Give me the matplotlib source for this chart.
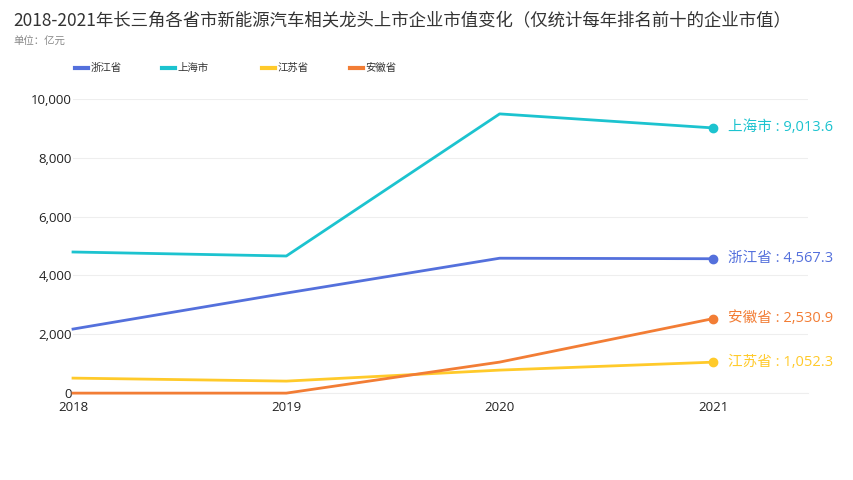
import matplotlib
matplotlib.use('Agg')
import matplotlib.pyplot as plt

plt.rcParams['font.family'] = ['Noto Sans CJK SC', 'DejaVu Sans']
num_font = ['Open Sans', 'Noto Sans CJK SC']

years = [2018, 2019, 2020, 2021]
provinces = ['浙江省', '上海市', '江苏省', '安徽省']
values = {
    '浙江省': [2177, 3400, 4585, 4567.3],
    '上海市': [4796, 4660, 9490, 9013.6],
    '江苏省': [510, 408, 782, 1052.3],
    '安徽省': [0, 0, 1054, 2530.9],
}
colors = ['#5470DC', '#1CC3CF', '#FFCA2A', '#F27D35']

fig = plt.figure(figsize=(8.54, 4.8), dpi=100)
ax = fig.add_axes([0.0855, 0.181, 0.8605, 0.613])

for name, c in zip(provinces, colors):
    v = values[name]
    ax.plot(years, v, color=c, lw=2, clip_on=False, zorder=3)
    ax.plot(years[-1], v[-1], 'o', color=c, ms=6, clip_on=False, zorder=4)
    ax.text(years[-1] + 0.07, v[-1], f'{name} : {v[-1]:,.1f}', color=c,
            fontsize=10.5, va='center', ha='left', family=num_font)

ax.set_xlim(2018, 2021.445)
ax.set_ylim(0, 10000)
ax.set_xticks(years)
ax.set_xticklabels([str(y) for y in years], family=num_font)
ax.set_yticks(range(0, 10001, 2000))
ax.set_yticklabels([f'{t:,}' for t in range(0, 10001, 2000)], family=num_font)
ax.tick_params(length=0, labelsize=9.5, colors='#222222', pad=1)
ax.tick_params(axis='x', pad=6)
ax.grid(axis='y', color='#EEEEEE', lw=0.8)
ax.set_axisbelow(True)
for s in ['top', 'right', 'left']:
    ax.spines[s].set_visible(False)
ax.spines['bottom'].set_color('#EEEEEE')

fig.text(0.016, 0.958, '2018-2021年长三角各省市新能源汽车相关龙头上市企业市值变化（仅统计每年排名前十的企业市值）',
         fontsize=12.5, color='#333333', va='center', ha='left')
fig.text(0.016, 0.912, '单位：亿元', fontsize=7.5, color='#888888', va='center', ha='left')

leg_x = [0.088, 0.19, 0.307, 0.41]
for x, name, c in zip(leg_x, provinces, colors):
    fig.add_artist(plt.Line2D([x, x + 0.015], [0.858, 0.858], color=c, lw=3,
                              transform=fig.transFigure))
    fig.text(x + 0.018, 0.858, name, fontsize=7.5, color='#333333', va='center', ha='left')

fig.savefig('out.png', dpi=100)
